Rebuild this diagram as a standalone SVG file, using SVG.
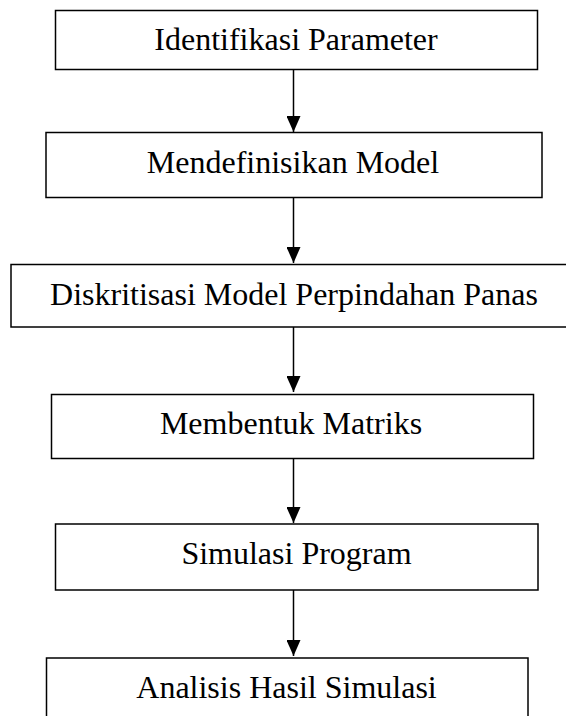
<svg xmlns="http://www.w3.org/2000/svg" width="566" height="716" viewBox="0 0 566 716">
<style>
.box{fill:#fff;stroke:#000;stroke-width:1.5}
.lbl{font-family:"Liberation Serif","Times New Roman",serif;font-size:32px;fill:#000;text-anchor:middle}
.conn{stroke:#000;stroke-width:1.5;fill:none}
</style>
<defs>
<marker id="ah" viewBox="0 0 16 14" refX="16" refY="7" markerWidth="16" markerHeight="14" orient="auto" markerUnits="userSpaceOnUse">
<path d="M0,0 L16,7 L0,14 z" fill="#000"/>
</marker>
</defs>
<rect width="566" height="716" fill="#fff"/>
<g id="connectors">
<line class="conn" x1="293.5" y1="69" x2="293.5" y2="132" marker-end="url(#ah)"/>
<line class="conn" x1="293.5" y1="197" x2="293.5" y2="263" marker-end="url(#ah)"/>
<line class="conn" x1="293.5" y1="327" x2="293.5" y2="392" marker-end="url(#ah)"/>
<line class="conn" x1="293.5" y1="458" x2="293.5" y2="523" marker-end="url(#ah)"/>
<line class="conn" x1="293.5" y1="590" x2="293.5" y2="656" marker-end="url(#ah)"/>
</g>
<g id="n1">
<rect class="box" x="55.5" y="10.5" width="482" height="59"/>
<text class="lbl" x="296" y="50">Identifikasi Parameter</text>
</g>
<g id="n2">
<rect class="box" x="46" y="132.5" width="496" height="65"/>
<text class="lbl" x="293" y="173">Mendefinisikan Model</text>
</g>
<g id="n3">
<rect class="box" x="11" y="264.5" width="557" height="62.5"/>
<text class="lbl" x="294" y="305">Diskritisasi Model Perpindahan Panas</text>
</g>
<g id="n4">
<rect class="box" x="51.5" y="394.5" width="482" height="64"/>
<text class="lbl" x="291" y="434">Membentuk Matriks</text>
</g>
<g id="n5">
<rect class="box" x="55.5" y="524" width="482.5" height="66"/>
<text class="lbl" x="296.5" y="564">Simulasi Program</text>
</g>
<g id="n6">
<rect class="box" x="46.5" y="658" width="481.5" height="80"/>
<text class="lbl" x="286.5" y="698">Analisis Hasil Simulasi</text>
</g>
</svg>
